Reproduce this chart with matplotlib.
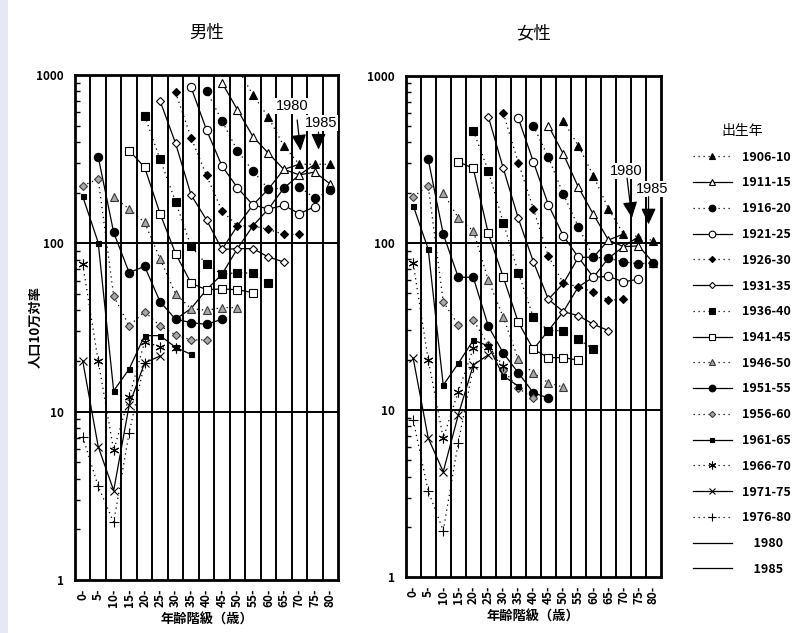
from __future__ import annotations

import matplotlib

matplotlib.use("Agg")
import matplotlib.pyplot as plt
import numpy as np
from matplotlib.lines import Line2D
from matplotlib.patches import Rectangle


BLACK = "#000000"
GRAY = "#A8A8A8"
BAND = "#E6E8F5"
DOT = (0, (1.0, 3.0))
JP = ["Noto Sans CJK JP", "DejaVu Sans"]

AGE_LABELS = ["0-", "5-", "10-", "15-", "20-", "25-", "30-", "35-", "40-",
              "45-", "50-", "55-", "60-", "65-", "70-", "75-", "80-"]
COHORTS = ["1906-10", "1911-15", "1916-20", "1921-25", "1926-30", "1931-35",
           "1936-40", "1941-45", "1946-50", "1951-55", "1956-60", "1961-65",
           "1966-70", "1971-75", "1976-80"]
# first age class (column) observed for each birth cohort
START_COL = [10, 9, 8, 7, 6, 5, 4, 3, 2, 1, 0, 0, 0, 0, 0]

# male, rate per 100,000, one list per birth cohort
M_1906_10 = [1100, 762, 561, 379, 295, 295, 295]
M_1911_15 = [901, 621, 431, 343, 275, 255, 265, 225]
M_1916_20 = [808, 534, 355, 269, 210, 213, 217, 185, 206]
M_1921_25 = [846, 472, 288, 214, 169, 160, 168, 150, 165]
M_1926_30 = [790, 425, 253, 156, 127, 127, 121, 113, 113]
M_1931_35 = [702, 393, 194, 138, 92, 93, 93, 83, 77.5]
M_1936_40 = [574, 316, 177, 96, 75, 65.5, 67, 66.4, 58.4]
M_1941_45 = [356, 283, 150, 87, 58, 53, 53.6, 53, 51]
M_1946_50 = [188, 160, 133, 81, 50, 41, 40, 41.5, 41.5]
M_1951_55 = [327, 116, 67, 73, 45, 35.4, 33.8, 33, 35.4]
M_1956_60 = [220, 241, 48.7, 32.3, 39.3, 32.3, 28.6, 26.7, 26.7]
M_1961_65 = [190, 101, 13.3, 17.9, 28.3, 28.3, 24.1, 21.9]
M_1966_70 = [75, 20, 5.9, 12.2, 26, 24.3, 24]
M_1971_75 = [20, 6.2, 3.4, 10.9, 19.5, 21.4]
M_1976_80 = [7.1, 3.6, 2.2, 7.5, 19.5]

# female
F_1906_10 = [536, 381, 252, 160, 113, 109, 103]
F_1911_15 = [502, 340, 215, 148, 104, 95, 96, 76]
F_1916_20 = [502, 325, 195, 125, 82, 81, 77, 75, 76]
F_1921_25 = [556, 306, 169, 110, 82, 62.3, 63, 58.6, 60.6]
F_1926_30 = [596, 302, 160, 83.5, 57.3, 54.7, 50.7, 45.5, 46]
F_1931_35 = [569, 279, 140, 77.2, 46, 38.8, 36.7, 32.6, 29.9]
F_1936_40 = [469, 270, 132, 66.3, 35.9, 29.9, 29.9, 26.5, 23.1]
F_1941_45 = [306, 279, 114, 62.3, 33.5, 23.1, 20.6, 20.6, 19.9]
F_1946_50 = [200, 141, 118, 60, 35.9, 20.1, 16.6, 14.6, 13.7]
F_1951_55 = [316, 113, 62.3, 62.3, 31.8, 21.9, 16.7, 12.7, 11.8]
F_1956_60 = [189, 219, 44.5, 32.3, 34.6, 24.5, 17.4, 13.5, 11.8]
F_1961_65 = [167, 91.6, 14.1, 19.0, 26.2, 24.2, 16.0, 13.9]
F_1966_70 = [75.5, 20, 6.8, 12.9, 23.4, 24, 18.4]
F_1971_75 = [20.4, 6.8, 4.28, 9.35, 18.6, 21.4]
F_1976_80 = [8.7, 3.28, 1.9, 6.4, 18]

MALE = [M_1906_10, M_1911_15, M_1916_20, M_1921_25, M_1926_30, M_1931_35,
        M_1936_40, M_1941_45, M_1946_50, M_1951_55, M_1956_60, M_1961_65,
        M_1966_70, M_1971_75, M_1976_80]
FEMALE = [F_1906_10, F_1911_15, F_1916_20, F_1921_25, F_1926_30, F_1931_35,
          F_1936_40, F_1941_45, F_1946_50, F_1951_55, F_1956_60, F_1961_65,
          F_1966_70, F_1971_75, F_1976_80]

# cross-section years: (label, column of 1906-10 cohort, youngest cohort drawn)
CROSS_MALE = [("1980", 14, 5), ("1985", 15, 9)]
CROSS_FEMALE = [("1980", 14, 5), ("1985", 15, 7)]

STYLES = [
    {"marker": "^", "mfc": BLACK, "ls": DOT, "ms": 6.0},
    {"marker": "^", "mfc": "white", "ls": "-", "ms": 6.0},
    {"marker": "o", "mfc": BLACK, "ls": DOT, "ms": 6.0},
    {"marker": "o", "mfc": "white", "ls": "-", "ms": 6.0},
    {"marker": "D", "mfc": BLACK, "ls": DOT, "ms": 3.9},
    {"marker": "D", "mfc": "white", "ls": "-", "ms": 3.9},
    {"marker": "s", "mfc": BLACK, "ls": DOT, "ms": 5.6},
    {"marker": "s", "mfc": "white", "ls": "-", "ms": 5.6},
    {"marker": "^", "mfc": GRAY, "ls": DOT, "ms": 6.0},
    {"marker": "o", "mfc": BLACK, "ls": "-", "ms": 6.0},
    {"marker": "D", "mfc": GRAY, "ls": DOT, "ms": 3.9},
    {"marker": "s", "mfc": BLACK, "ls": "-", "ms": 3.6},
    {"marker": (6, 2, 0), "mfc": BLACK, "ls": DOT, "ms": 7.0},
    {"marker": "x", "mfc": BLACK, "ls": "-", "ms": 6.0},
    {"marker": "+", "mfc": BLACK, "ls": DOT, "ms": 7.0},
]


def cross_section(series, oldest_col, youngest):
    cols, vals = [], []
    for k in range(youngest + 1):
        col = oldest_col - k
        cols.append(col)
        vals.append(series[k][col - START_COL[k]])
    return np.array(cols), np.array(vals)


def draw_panel(ax, series, crosses, title, arrow_spec):
    n = len(AGE_LABELS)
    for label, oldest_col, youngest in crosses:
        cols, vals = cross_section(series, oldest_col, youngest)
        ax.plot(cols, vals, color=BLACK, lw=0.9, ls="-", zorder=3)

    for vals, start, style in zip(series, START_COL, STYLES):
        cols = np.arange(start, start + len(vals))
        edge = "#3A3A3A" if style["mfc"] == GRAY else BLACK
        ax.plot(cols, vals, color=BLACK, lw=0.9, ls=style["ls"],
                marker=style["marker"], ms=style["ms"], mfc=style["mfc"],
                mec=edge, mew=0.8, zorder=4)

    ax.set_yscale("log")
    ax.set_ylim(1, 1000)
    ax.set_xlim(-0.5, n - 0.5)
    for x in np.arange(0.5, n - 1, 1.0):
        ax.axvline(x, color=BLACK, lw=1.4, zorder=2)
    for y in (10, 100):
        ax.axhline(y, color=BLACK, lw=1.4, zorder=2)
    for side in ax.spines.values():
        side.set_linewidth(2.0)

    ax.set_xticks(np.arange(n), AGE_LABELS, rotation=90)
    ax.tick_params(axis="x", length=0, pad=6)
    ax.set_yticks([1, 10, 100, 1000], ["1", "10", "100", "1000"])
    ax.tick_params(axis="y", which="major", length=0, pad=8)
    ax.tick_params(axis="y", which="minor", direction="in", length=3.5, width=1.0, labelleft=False)
    for lab in ax.get_xticklabels() + ax.get_yticklabels():
        lab.set_family(JP)
        lab.set_fontweight("bold")
        lab.set_fontsize(8.5)

    ax.set_title(title, family=JP, fontsize=12.5, pad=27)
    ax.set_xlabel("年齢階級（歳）", family=JP, fontsize=9.5, fontweight="bold", labelpad=4)

    for label, text_xy, tail, head in arrow_spec:
        ax.text(*text_xy, label, family="Liberation Sans", fontsize=10.5,
                ha="center", va="center", zorder=6,
                bbox={"facecolor": "white", "edgecolor": "none", "pad": 0.5})
        ax.annotate("", xy=head, xytext=tail, zorder=6,
                    arrowprops={"arrowstyle": "-|>,head_length=0.7,head_width=0.32",
                                "color": BLACK, "lw": 0.9, "mutation_scale": 14,
                                "shrinkA": 0, "shrinkB": 0})


def main():
    plt.rcParams.update({"font.family": JP, "axes.linewidth": 2.0})
    fig = plt.figure(figsize=(7.95, 6.33), dpi=100)
    fig.patches.append(Rectangle((0, 0), 8 / 795, 1, transform=fig.transFigure,
                                 facecolor=BAND, edgecolor="none", zorder=0))

    ax_m = fig.add_axes([75 / 795, 53 / 633, 263 / 795, 505 / 633])
    ax_f = fig.add_axes([405.7 / 795, 55.7 / 633, 255.3 / 795, 501.6 / 633])

    male_arrows = [("1980", (13.56, 655), (13.86, 541), (14.08, 355)),
                   ("1985", (15.43, 519), (15.24, 459), (15.24, 360))]
    female_arrows = [("1980", (14.18, 269), (14.24, 244), (14.56, 141)),
                     ("1985", (15.91, 210), (15.67, 189), (15.67, 129))]

    draw_panel(ax_m, MALE, CROSS_MALE, "男性", male_arrows)
    draw_panel(ax_f, FEMALE, CROSS_FEMALE, "女性", female_arrows)
    ax_m.set_ylabel("人口10万対率", family=JP, fontsize=9.5, fontweight="bold")
    ax_m.yaxis.set_label_coords(-0.125, 0.5)

    handles = []
    for style in STYLES:
        edge = "#3A3A3A" if style["mfc"] == GRAY else BLACK
        handles.append(Line2D([], [], color=BLACK, lw=0.9, ls=style["ls"],
                              marker=style["marker"], ms=style["ms"] * 0.8,
                              mfc=style["mfc"], mec=edge, mew=0.8))
    handles += [Line2D([], [], color=BLACK, lw=0.9), Line2D([], [], color=BLACK, lw=0.9)]
    labels = COHORTS + ["    1980", "    1985"]
    leg = fig.legend(handles, labels, loc="upper left", bbox_to_anchor=(688 / 795, 1 - 119 / 633),
                     frameon=False, title="出生年", handlelength=3.1, handletextpad=0.8,
                     labelspacing=1.02, borderaxespad=0,
                     prop={"family": JP, "weight": "bold", "size": 9})
    leg.get_title().set_fontsize(10)

    fig.savefig("out.png", dpi=100)
    plt.close(fig)


if __name__ == "__main__":
    main()
